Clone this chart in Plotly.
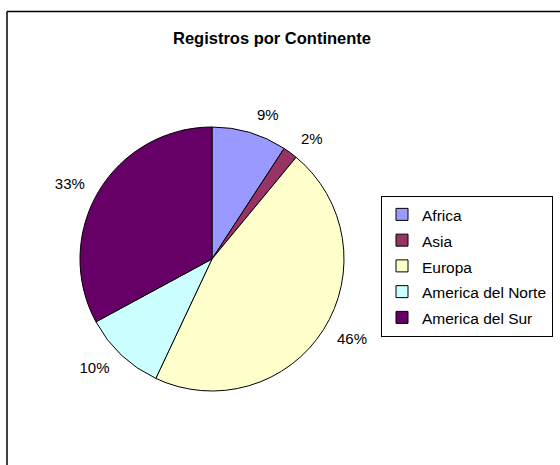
import plotly.graph_objects as go

continentes = ["Africa", "Asia", "Europa", "America del Norte", "America del Sur"]
registros = [9.2, 1.8, 46.0, 10.1, 32.9]
colores = ["#9999FF", "#993366", "#FFFFCC", "#CCFFFF", "#660066"]
titulo = "Registros por Continente"

W, H = 560, 465
cx, cy, r = 212, 259, 132
r_lab = r + 11  # radius of the transparent pie that only carries the outside labels


def dom(rad):
    return dict(x=[(cx - rad) / W, (cx + rad) / W], y=[1 - (cy + rad) / H, 1 - (cy - rad) / H])


font_fam = "Liberation Sans, Arial"

pie = go.Pie(
    labels=[f'<span style="font-size:15.5px">{c}</span>' for c in continentes],
    values=registros,
    marker=dict(colors=colores, line=dict(color="#000000", width=1)),
    sort=False,
    direction="clockwise",
    rotation=0,
    textinfo="none",
    domain=dom(r),
    showlegend=True,
    hoverinfo="label+percent",
)

labels_pie = go.Pie(
    labels=[c + " (etiqueta)" for c in continentes],
    values=registros,
    marker=dict(colors=["rgba(0,0,0,0)"] * len(continentes), line=dict(width=0)),
    sort=False,
    direction="clockwise",
    rotation=0,
    textinfo="percent",
    texttemplate="%{percent:.0%}",
    textposition="outside",
    outsidetextfont=dict(family=font_fam, size=15, color="#000000"),
    domain=dom(r_lab),
    showlegend=False,
    hoverinfo="skip",
)

fig = go.Figure([labels_pie, pie])

fig.update_layout(
    width=W, height=H,
    margin=dict(l=0, r=0, t=0, b=0),
    paper_bgcolor="#FFFFFF",
    plot_bgcolor="#FFFFFF",
    font=dict(family=font_fam, color="#000000"),
    title=dict(text=f"<b>{titulo}</b>", x=272 / W, xanchor="center", y=1 - 38 / H, yanchor="middle",
               font=dict(size=16.5, family=font_fam, color="#000000")),
    legend=dict(
        x=553 / W, xanchor="right", y=1 - 266 / H, yanchor="middle",
        bordercolor="#000000", borderwidth=1, bgcolor="#FFFFFF",
        font=dict(size=17.5, family=font_fam, color="#000000"),
        itemclick=False, itemdoubleclick=False,
        traceorder="normal",
    ),
    shapes=[
        dict(type="line", xref="paper", yref="paper", x0=7 / W, x1=1.0, y0=1 - 11.5 / H, y1=1 - 11.5 / H,
             line=dict(color="#000000", width=1.5)),
        dict(type="line", xref="paper", yref="paper", x0=7 / W, x1=7 / W, y0=1 - 11.5 / H, y1=0,
             line=dict(color="#000000", width=1.5)),
    ],
)

fig.write_html("out.html", config={"displayModeBar": False},
               post_script="document.body.style.margin='0';")
